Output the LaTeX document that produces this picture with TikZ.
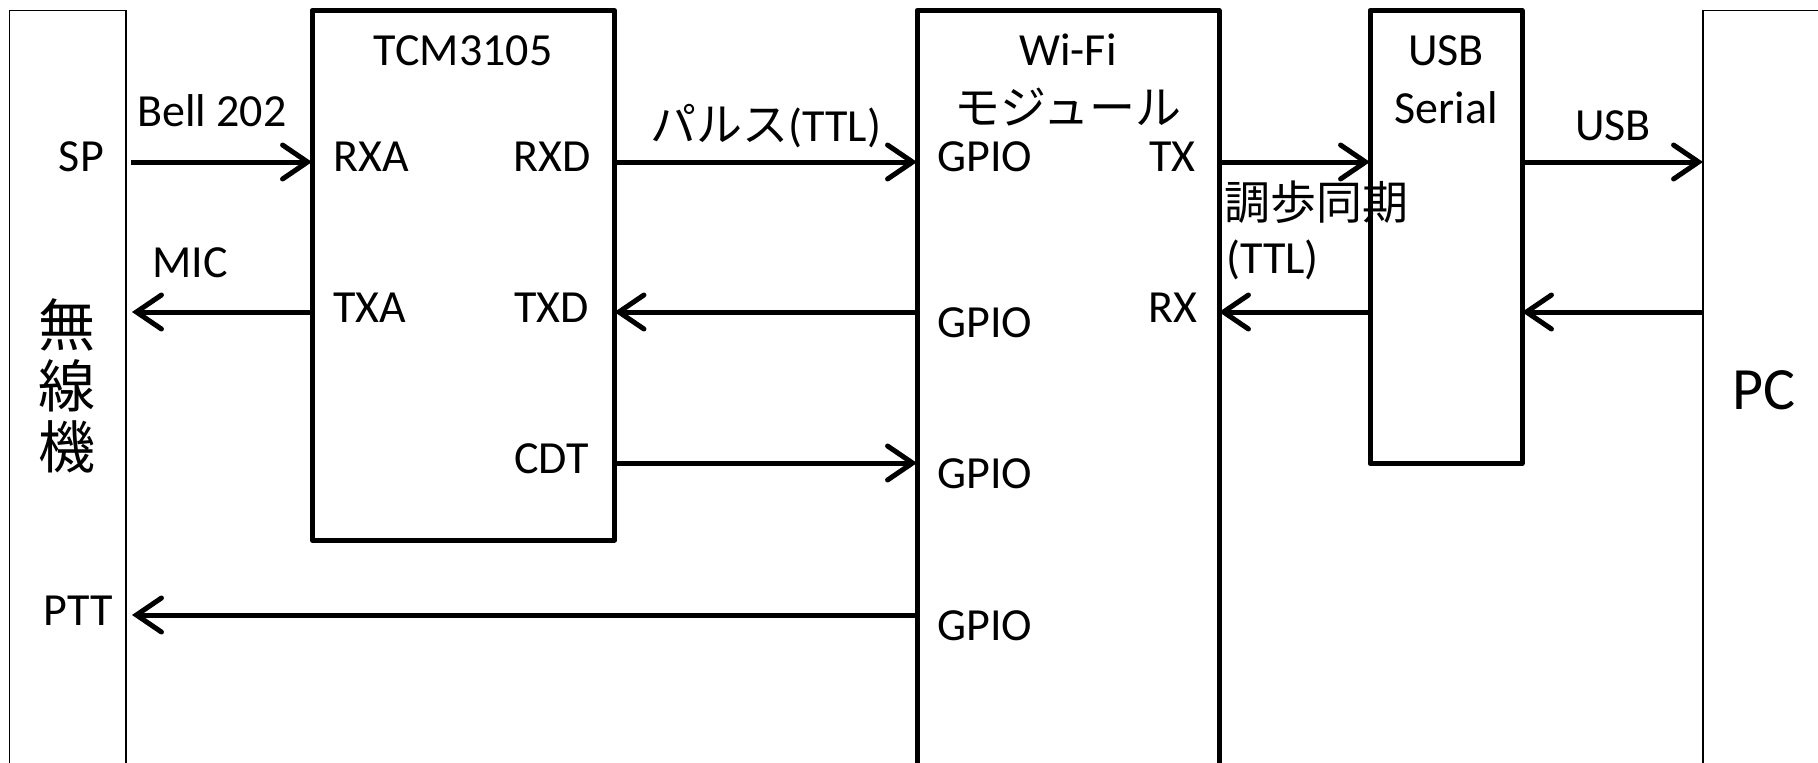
\documentclass[tikz,border=0pt]{standalone}
\usepackage{fontspec}
\setmainfont{Carlito}
\newfontfamily\cjk{Noto Sans CJK JP}
\usetikzlibrary{arrows.meta}
\begin{document}
\begin{tikzpicture}[x=1pt,y=-1pt,
  thinbox/.style={draw, line width=1.6pt, inner sep=0, outer sep=0, anchor=north west},
  thickbox/.style={draw, line width=5pt, line join=round, inner sep=0, outer sep=0, anchor=north west},
  arr/.style={line width=5pt, -{Straight Barb[length=25pt,width=34pt,line cap=round]}},
  lab/.style={inner sep=0, font=\fontsize{46}{55}\selectfont}]
\useasboundingbox (0,0) rectangle (1818,763);
\clip (0,0) rectangle (1818,763);
% boxes
\node[thinbox, minimum width=116.5, minimum height=800] (radio) at (9.5,10.5) {};
\node[thickbox, minimum width=302.5, minimum height=529.5] (tcm) at (312,10.5) {};
\node[thickbox, minimum width=302, minimum height=800] (wifi) at (917,10.5) {};
\node[thickbox, minimum width=152, minimum height=453] (usb) at (1370,10.5) {};
\node[thinbox, minimum width=200, minimum height=800] (pc) at (1703,10.5) {};
% levels
\coordinate (r1) at (0,162);
\coordinate (r2) at (0,312);
\coordinate (r3) at (0,463);
\coordinate (r4) at (0,615);
% connectors
\draw[arr, shorten <=5pt] (radio.east |- r1) -- (tcm.west |- r1);
\draw[arr, shorten >=6pt] (tcm.west |- r2) -- (radio.east |- r2);
\draw[arr] (tcm.east |- r1) -- (wifi.west |- r1);
\draw[arr] (wifi.west |- r2) -- (tcm.east |- r2);
\draw[arr] (tcm.east |- r3) -- (wifi.west |- r3);
\draw[arr, shorten >=6pt] (wifi.west |- r4) -- (radio.east |- r4);
\draw[arr] (wifi.east |- r1) -- (usb.west |- r1);
\draw[arr] (usb.west |- r2) -- (wifi.east |- r2);
\draw[arr] (usb.east |- r1) -- (pc.west |- r1);
\draw[arr] (pc.west |- r2) -- (usb.east |- r2);
% labels
\node[lab, anchor=base east] (lsp) at (104,171) {SP};
\node[lab, anchor=base west] (lbell) at (137,126) {Bell 202};
\node[lab, anchor=base west] (lmic) at (152,277) {MIC};
\node[lab, anchor=base east] (lptt) at (113,625) {PTT};
\node[inner sep=0, align=center, font=\cjk\fontsize{57}{61}\selectfont] (lradio) at (67,386) {無\\線\\機};
\node[lab, anchor=base] (ltcm) at (463,65) {TCM3105};
\node[lab, anchor=base west] (lrxa) at (333,171) {RXA};
\node[lab, anchor=base east] (lrxd) at (591,171) {RXD};
\node[lab, anchor=base west] (ltxa) at (333,322) {TXA};
\node[lab, anchor=base east] (ltxd) at (589,322) {TXD};
\node[lab, anchor=base east] (lcdt) at (589,473) {CDT};
\node[lab, anchor=base] (lpulse) at (766,141) {{\cjk パルス}(TTL)};
\node[lab, anchor=base] (lwifi) at (1068,65) {Wi-Fi};
\node[lab, anchor=base] (lmod) at (1068,124) {\cjk モジュール};
\node[lab, anchor=base west] (lg1) at (937,171) {GPIO};
\node[lab, anchor=base west] (lg2) at (937,337) {GPIO};
\node[lab, anchor=base west] (lg3) at (937,488) {GPIO};
\node[lab, anchor=base west] (lg4) at (937,640) {GPIO};
\node[lab, anchor=base east] (ltx) at (1196,171) {TX};
\node[lab, anchor=base east] (lrx) at (1198,322) {RX};
\node[lab, anchor=base west] (lasync) at (1224,219) {\cjk 調歩同期};
\node[lab, anchor=base west] (lttl) at (1226,273) {(TTL)};
\node[lab, anchor=base] (lusb) at (1446,65) {USB};
\node[lab, anchor=base] (lser) at (1446,123) {Serial};
\node[lab, anchor=base west] (lusb2) at (1575,140) {USB};
\node[inner sep=0, anchor=base west, font=\fontsize{60}{70}\selectfont] (lpc) at (1732,409) {PC};
\end{tikzpicture}
\end{document}
